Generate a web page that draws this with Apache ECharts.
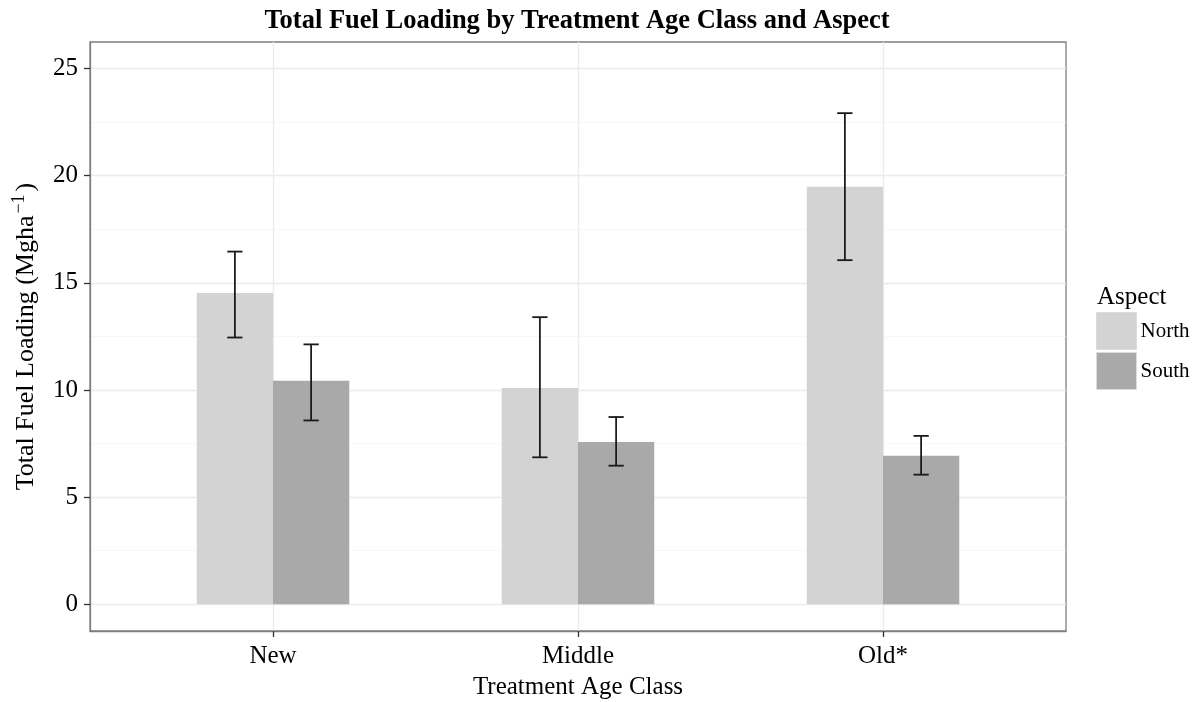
<!DOCTYPE html>
<html>
<head>
<meta charset="utf-8">
<script src="https://cdn.jsdelivr.net/npm/echarts@6/dist/echarts.min.js"></script>
<style>html,body{margin:0;padding:0;background:#fff;}#c{width:1199px;height:702px;}</style>
</head>
<body>
<div id="c"></div>
<script>
const categories = ['New', 'Middle', 'Old*'];
const northMean = [14.53, 10.10, 19.48];
const northLow  = [12.45, 6.86, 16.06];
const northHigh = [16.46, 13.40, 22.92];
const southMean = [10.43, 7.58, 6.93];
const southLow  = [8.58, 6.47, 6.05];
const southHigh = [12.13, 8.74, 7.86];
const yMajorTicks = [0, 5, 10, 15, 20, 25];
const yMinorTicks = [2.5, 7.5, 12.5, 17.5, 22.5];

const FONT = 'Liberation Serif';
const BAR_W = 0.25;
const CAP = 0.025;
const catPos = categories.map((_, i) => i + 1);

function rows(mean, lo, hi) {
  return catPos.map((p, i) => [p, mean[i], lo[i], hi[i]]);
}

function makeRender(side, color) {
  return function (params, api) {
    const cat = api.value(0), val = api.value(1), lo = api.value(2), hi = api.value(3);
    const left = side === 0 ? cat - BAR_W : cat;
    const right = left + BAR_W;
    const cx = (left + right) / 2;
    const p0 = api.coord([left, val]);
    const p1 = api.coord([right, 0]);
    const t = api.coord([cx, hi]);
    const b = api.coord([cx, lo]);
    const cl = api.coord([cx - CAP, hi])[0];
    const cr = api.coord([cx + CAP, hi])[0];
    const es = { stroke: '#1a1a1a', lineWidth: 1.8 };
    return {
      type: 'group',
      children: [
        { type: 'rect', shape: { x: p0[0], y: p0[1], width: p1[0] - p0[0], height: p1[1] - p0[1] }, style: { fill: color } },
        { type: 'line', shape: { x1: t[0], y1: t[1], x2: b[0], y2: b[1] }, style: es },
        { type: 'line', shape: { x1: cl, y1: t[1], x2: cr, y2: t[1] }, style: es },
        { type: 'line', shape: { x1: cl, y1: b[1], x2: cr, y2: b[1] }, style: es }
      ]
    };
  };
}

const chart = echarts.init(document.getElementById('c'), null, { renderer: 'canvas' });
chart.setOption({
  animation: false,
  backgroundColor: '#ffffff',
  textStyle: { fontFamily: FONT },
  title: [
    {
      text: 'Total Fuel Loading by Treatment Age Class and Aspect',
      left: 572, top: 3, textAlign: 'center',
      textStyle: { fontFamily: FONT, fontWeight: 'bold', fontSize: 26.5, color: '#000' }
    },
    {
      text: 'Aspect',
      left: 1092, top: 280,
      textStyle: { fontFamily: FONT, fontWeight: 'normal', fontSize: 25, color: '#000' }
    }
  ],
  legend: {
    orient: 'vertical',
    left: 1096, top: 312, padding: 0,
    itemWidth: 40, itemHeight: 37, itemGap: 2,
    icon: 'rect',
    itemStyle: { borderColor: '#dcdcdc', borderWidth: 1 },
    textStyle: { fontFamily: FONT, fontSize: 21, color: '#000', padding: [6, 0, 0, -1] },
    data: ['North', 'South']
  },
  grid: {
    left: 90, right: 133, top: 42, bottom: 71,
    outerBoundsMode: 'none', containLabel: false,
    show: true, borderColor: '#7f7f7f', borderWidth: 1.3, backgroundColor: '#fff'
  },
  xAxis: {
    type: 'value',
    min: 0.4, max: 3.6,
    name: 'Treatment Age Class',
    nameLocation: 'middle', nameGap: 44,
    nameTextStyle: { fontFamily: FONT, fontSize: 25, color: '#000' },
    axisLine: { show: true, onZero: false, lineStyle: { color: '#7f7f7f', width: 1.3 } },
    axisTick: { show: true, length: 6, customValues: catPos, lineStyle: { color: '#333', width: 1.3 } },
    axisLabel: {
      customValues: catPos, margin: 13,
      fontFamily: FONT, fontSize: 25, color: '#000',
      formatter: v => categories[Math.round(v) - 1] || ''
    },
    splitLine: { show: true, lineStyle: { color: '#ebebeb', width: 1.3 } }
  },
  yAxis: [
    {
      type: 'value',
      min: -1.245, max: 26.24,
      name: 'Total Fuel Loading (Mgha{sup|\u22121})',
      nameLocation: 'middle', nameGap: 47, nameRotate: 90,
      nameTextStyle: {
        fontFamily: FONT, fontSize: 26, color: '#000',
        rich: { sup: { fontFamily: FONT, fontSize: 18, color: '#000', padding: [0, 3, 15, 2] } }
      },
      axisLine: { show: true, onZero: false, lineStyle: { color: '#7f7f7f', width: 1.3 } },
      axisTick: { show: true, length: 6, customValues: yMajorTicks, lineStyle: { color: '#333', width: 1.3 } },
      axisLabel: { customValues: yMajorTicks, margin: 12, fontFamily: FONT, fontSize: 25, color: '#000' },
      splitLine: { show: true, lineStyle: { color: '#ebebeb', width: 1.3 } }
    },
    {
      type: 'value',
      min: -1.245, max: 26.24,
      axisLine: { show: false, onZero: false },
      axisTick: { show: false, customValues: yMinorTicks },
      axisLabel: { show: false, customValues: yMinorTicks },
      splitLine: { show: true, lineStyle: { color: '#f5f5f5', width: 0.8 } }
    }
  ],
  series: [
    {
      name: 'North', type: 'custom',
      itemStyle: { color: '#d3d3d3' },
      encode: { x: 0, y: 1 },
      renderItem: makeRender(0, '#d3d3d3'),
      data: rows(northMean, northLow, northHigh)
    },
    {
      name: 'South', type: 'custom',
      itemStyle: { color: '#a9a9a9' },
      encode: { x: 0, y: 1 },
      renderItem: makeRender(1, '#a9a9a9'),
      data: rows(southMean, southLow, southHigh)
    }
  ]
});
</script>
</body>
</html>
